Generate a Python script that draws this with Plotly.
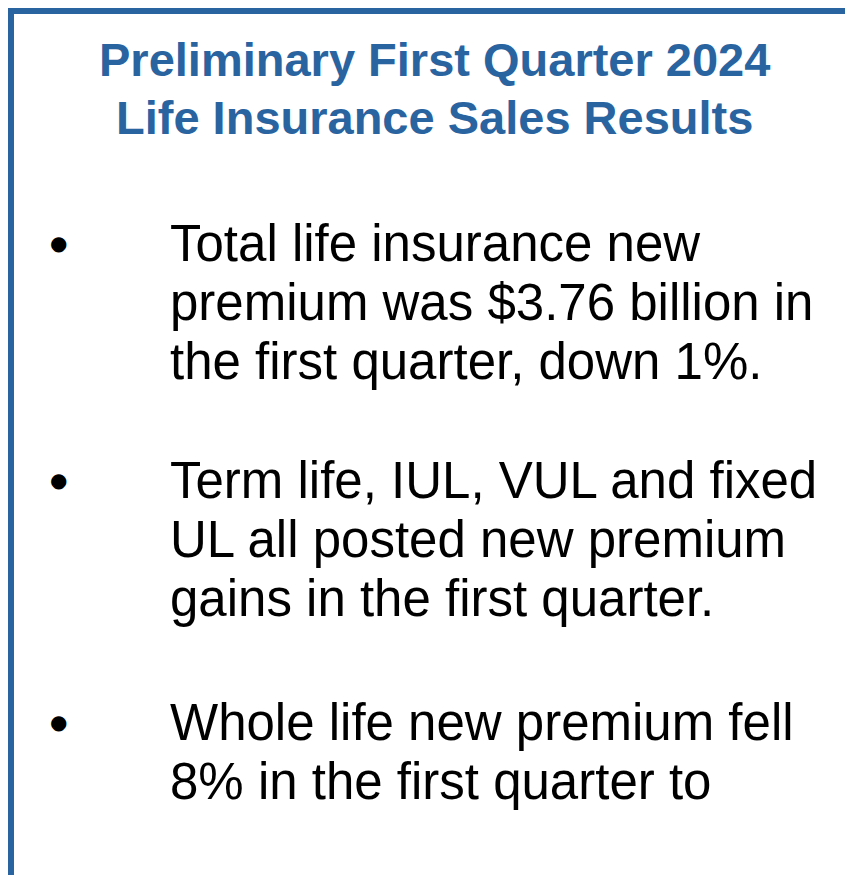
import plotly.graph_objects as go

W, H = 853, 875
title_lines = ["Preliminary First Quarter 2024", "Life Insurance Sales Results"]
title_y = [52, 110]
bullets = [
    ["Total life insurance new", "premium was $3.76 billion in", "the first quarter, down 1%."],
    ["Term life, IUL, VUL and fixed", "UL all posted new premium", "gains in the first quarter."],
    ["Whole life new premium fell", "8% in the first quarter to"],
]
bullet_y = [235, 472, 714]
line_gap = 59

def px(x): return x / W
def py(y): return 1 - y / H

fig = go.Figure()
ann = []
for t, y in zip(title_lines, title_y):
    ann.append(dict(x=px(W / 2), y=py(y), text="<b>" + t + "</b>", showarrow=False,
                    xanchor="center", yanchor="middle", xref="paper", yref="paper",
                    font=dict(family="Liberation Sans, Arial", size=47, color="#2a64a0")))
for lines, y0 in zip(bullets, bullet_y):
    ann.append(dict(x=px(50), y=py(y0), text="●", showarrow=False, xanchor="center", yanchor="middle",
                    xref="paper", yref="paper", font=dict(family="DejaVu Sans", size=20, color="black")))
    for i, l in enumerate(lines):
        ann.append(dict(x=px(160), y=py(y0 + i * line_gap), text=l, showarrow=False,
                        xanchor="left", yanchor="middle", xref="paper", yref="paper",
                        font=dict(family="Liberation Sans, Arial", size=51, color="black")))

fig.update_layout(
    width=W, height=H, margin=dict(l=0, r=0, t=0, b=0),
    paper_bgcolor="white", plot_bgcolor="white",
    xaxis=dict(visible=False, fixedrange=True),
    yaxis=dict(visible=False, fixedrange=True),
    annotations=ann, showlegend=False,
    shapes=[dict(type="rect", x0=px(3), x1=px(W - 3), y0=py(H - 3), y1=py(3), xref="paper", yref="paper",
                 line=dict(color="#2a64a0", width=6))],
)
fig.write_html("out.html")
